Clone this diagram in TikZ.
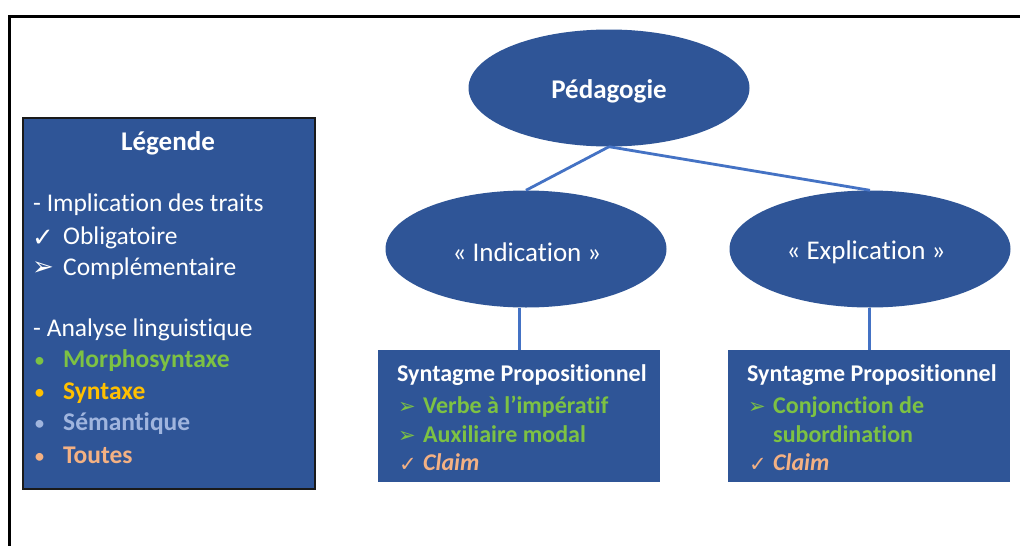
\documentclass[tikz,border=0pt]{standalone}
\usepackage{fontspec}
\setmainfont{Carlito}[Ligatures={NoCommon}]
\newfontfamily\symfont{DejaVu Sans}
\usetikzlibrary{shapes.geometric}
\definecolor{pblue}{HTML}{2F5597}
\definecolor{lblue}{HTML}{4472C4}
\definecolor{pgreen}{HTML}{7DC243}
\definecolor{pgold}{HTML}{FFC000}
\definecolor{psem}{HTML}{A0B5DE}
\definecolor{ppeach}{HTML}{F4B183}
\definecolor{pframe}{HTML}{1A1A1A}
\begin{document}
\begin{tikzpicture}[x=1pt,y=-1pt,
  oval/.style={ellipse, fill=pblue, minimum width=281pt, minimum height=117pt, inner sep=0pt},
  ovaltext/.style={text=white, inner sep=0pt, font=\fontsize{27}{32}\selectfont},
  panel/.style={fill=pblue, inner sep=0pt, anchor=north west},
  conn/.style={draw=lblue, line width=2.8pt},
  lg/.style={anchor=mid west, text=white, font=\fontsize{25.5}{31}\selectfont, inner sep=0pt},
  lgb/.style={anchor=mid west, font=\fontsize{25.5}{31}\selectfont\bfseries, inner sep=0pt},
  bullet/.style={anchor=mid west, font=\fontsize{22}{31}\selectfont, inner sep=0pt},
  bx/.style={anchor=mid west, font=\fontsize{24}{29}\selectfont\bfseries, inner sep=0pt},
  mk/.style={anchor=west, inner sep=0pt, font=\symfont\fontsize{26}{30}\selectfont},
  mks/.style={anchor=west, inner sep=0pt, font=\symfont\fontsize{21}{26}\selectfont}
]
\useasboundingbox (0,0) rectangle (1020,546);
\fill[white] (0,0) rectangle (1020,546);
% outer frame (left and top only)
\draw[line width=3pt, black] (9,546) -- (9,16) -- (1020,16);

% legend panel
\node[panel, draw=pframe, line width=1.5pt, minimum width=292pt, minimum height=371pt] (legend) at (22,117) {};
\node[text=white, font=\fontsize{27}{32}\selectfont\bfseries, inner sep=0pt] (lgtitle) at (168,143) {Légende};
\node[lg] (l1) at (33,209) {- Implication des traits};
\node[mk, text=white] (m1) at (32,238) {✓};
\node[lg] (l2) at (63,242) {Obligatoire};
\node[mk, text=white] (m2) at (32,269) {➢};
\node[lg] (l3) at (63,273) {Complémentaire};
\node[lg] (l4) at (33,334) {- Analyse linguistique};
\node[bullet, text=pgreen] (b1) at (34,365) {•};
\node[lgb, text=pgreen] (t1) at (63,365) {Morphosyntaxe};
\node[bullet, text=pgold] (b2) at (34,397) {•};
\node[lgb, text=pgold] (t2) at (63,397) {Syntaxe};
\node[bullet, text=psem] (b3) at (34,428) {•};
\node[lgb, text=psem] (t3) at (63,428) {Sémantique};
\node[bullet, text=ppeach] (b4) at (34,461) {•};
\node[lgb, text=ppeach] (t4) at (63,461) {Toutes};

% ellipses
\node[oval] (ped) at (609,88) {};
\node[oval] (ind) at (526,249) {};
\node[oval] (expl) at (870,249) {};
\node[ovaltext, font=\fontsize{27}{32}\selectfont\bfseries] (pedt) at (609,91) {Pédagogie};
\node[ovaltext] (indt) at (527,252) {« Indication »};
\node[ovaltext] (explt) at (866,252) {« Explication »};

% boxes
\node[panel, minimum width=282pt, minimum height=132pt] (boxL) at (378,350) {};
\node[panel, minimum width=282pt, minimum height=132pt] (boxR) at (728,350) {};

% connectors
\draw[conn] (ped.south) -- (ind.north);
\draw[conn] (ped.south) -- (expl.north);
\draw[conn] (boxL.north) -- (boxL.north |- ind.south);
\draw[conn] (boxR.north) -- (boxR.north |- expl.south);

% left box text
\node[bx, text=white] (lh) at (397,379) {Syntagme Propositionnel};
\node[mks, text=pgreen] (lm1) at (398,408) {➢};
\node[bx, text=pgreen] (li1) at (423,411) {Verbe à l’impératif};
\node[mks, text=pgreen] (lm2) at (398,437) {➢};
\node[bx, text=pgreen] (li2) at (423,440) {Auxiliaire modal};
\node[mks, text=ppeach] (lm3) at (399,465) {✓};
\node[bx, text=ppeach, font=\fontsize{24}{29}\selectfont\bfseries\itshape] (li3) at (423,468) {Claim};

% right box text
\node[bx, text=white] (rh) at (747,379) {Syntagme Propositionnel};
\node[mks, text=pgreen] (rm1) at (748,408) {➢};
\node[bx, text=pgreen] (ri1) at (773,411) {Conjonction de};
\node[bx, text=pgreen] (ri2) at (773,440) {subordination};
\node[mks, text=ppeach] (rm3) at (749,465) {✓};
\node[bx, text=ppeach, font=\fontsize{24}{29}\selectfont\bfseries\itshape] (ri3) at (773,468) {Claim};
\end{tikzpicture}
\end{document}
